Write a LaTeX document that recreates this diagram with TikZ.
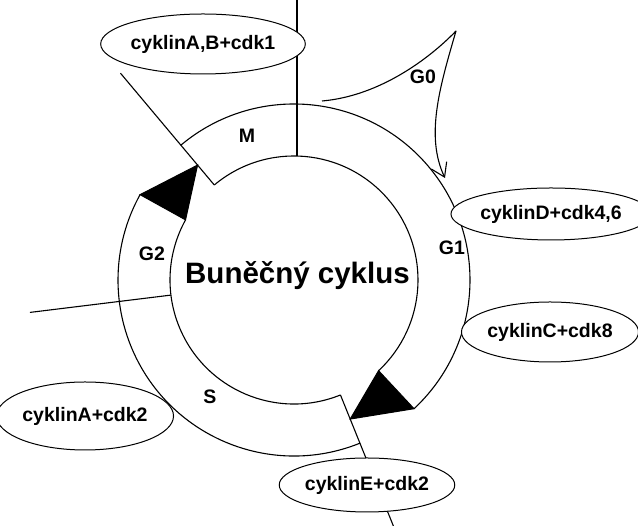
\documentclass[tikz,border=0pt]{standalone}
\usepackage{fontspec}
\setmainfont{Liberation Sans}
\usetikzlibrary{shapes.geometric,arrows.meta,calc}
\begin{document}
\begin{tikzpicture}[x=1pt,y=1pt,
  ln/.style={line width=1.1pt, line join=round},
  enz/.style={ellipse, draw, line width=1pt, fill=white, inner sep=0pt,
              font=\fontsize{19.5}{22}\selectfont\bfseries},
  phase/.style={font=\fontsize{19.5}{22}\selectfont\bfseries, inner sep=0pt},
  head/.style={fill=black, draw=black, line width=1pt, line join=miter},
  ]
\useasboundingbox (0,0) rectangle (638,526);
\coordinate (O) at (294,246);

\begin{scope}[shift={(O)}]
  % named points of the ring
  \coordinate (mOut) at (130:176);  \coordinate (mIn) at (130:124);
  \coordinate (g1Out) at (-47:176); \coordinate (g1In) at (-47:124);
  \coordinate (sOut) at (-68:176);  \coordinate (sIn) at (-68:124);
  \coordinate (g2Out) at (151:176); \coordinate (g2In) at (151:124);
  \coordinate (tipA) at (-68:150);  \coordinate (tipB) at (130:150);
  % radial dividing lines
  \coordinate (rM) at (130:270);
  \coordinate (rS1) at (187:124); \coordinate (rS2) at (187:266);
  \coordinate (rE) at (-68:268);
  \coordinate (vIn) at (3,123.96); \coordinate (vTop) at (3,282);

  % band M + G1
  \draw[ln] (mOut) arc[start angle=130, end angle=-47, radius=176];
  \draw[ln] (mIn) arc[start angle=130, end angle=-47, radius=124];
  \draw[head] (g1Out) -- (g1In) -- (tipA) -- cycle;
  % band S + G2
  \draw[ln] (sOut) arc[start angle=-68, end angle=-209, radius=176];
  \draw[ln] (sIn) arc[start angle=-68, end angle=-209, radius=124];
  \draw[head] (g2Out) -- (g2In) -- (tipB) -- cycle;

  \draw[ln] (mIn) -- (rM);
  \draw[ln] (rS1) -- (rS2);
  \draw[ln] (sIn) -- (rE);
  \draw[ln] (vIn) -- (vTop);
\end{scope}

% G0 loop
\coordinate (g0s) at (322,425);
\coordinate (g0t) at (456,495);
\coordinate (g0e) at (445,348);
\draw[ln, -{Straight Barb[length=13pt,width=17pt,line width=1.1pt]}]
  (g0s) .. controls (380,430) and (430,468) .. (g0t)
        .. controls (440,440) and (425,390) .. (g0e);

% enzyme ellipses
\node[enz, minimum width=168pt, minimum height=60pt] (eAB) at (203,482) {cyklinA,B+cdk1};
\node[enz, minimum width=172pt, minimum height=52pt] (eD) at (551,312) {cyklinD+cdk4,6};
\node[enz, minimum width=146pt, minimum height=60pt] (eC) at (550,194) {cyklinC+cdk8};
\node[enz, minimum width=150pt, minimum height=68pt] (eA2) at (85,110) {cyklinA+cdk2};
\node[enz, minimum width=141pt, minimum height=54pt] (eE) at (367,41) {cyklinE+cdk2};

% phase labels
\node[phase] (lM) at (247,390) {M};
\node[phase] (lG0) at (423,449) {G0};
\node[phase] (lG1) at (452,278) {G1};
\node[phase] (lG2) at (152,272) {G2};
\node[phase] (lS) at (210,129) {S};

\node[font=\fontsize{29.5}{34}\selectfont\bfseries, anchor=base, inner sep=0pt]
  (title) at (297.5,242) {Buněčný cyklus};
\end{tikzpicture}
\end{document}
